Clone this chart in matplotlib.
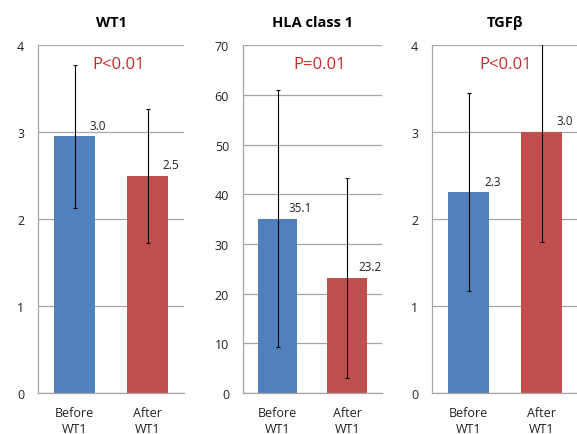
import matplotlib.pyplot as plt

# panel data
titles = ["WT1", "HLA class 1", "TGFβ"]
p_texts = ["P<0.01", "P=0.01", "P<0.01"]
groups = ["Before\nWT1", "After\nWT1"]
wt1_means = [2.95, 2.5]
wt1_err = [0.82, 0.77]
hla_means = [35.1, 23.2]
hla_err = [25.9, 20.1]
tgf_means = [2.31, 3.0]
tgf_err = [1.14, 1.26]
mean_labels = [["3.0", "2.5"], ["35.1", "23.2"], ["2.3", "3.0"]]
ymax = [4, 70, 4]
ystep = [1, 10, 1]

BLUE = "#4F81BD"
RED = "#C0504D"

plt.rcParams["font.family"] = ["Open Sans", "DejaVu Sans"]

fig = plt.figure(figsize=(5.77, 4.35), dpi=100)
# axes rectangles in figure fractions (left, bottom, width, height)
rects = [
    (0.066, 0.094, 0.253, 0.80),
    (0.421, 0.094, 0.241, 0.80),
    (0.749, 0.094, 0.253, 0.80),
]
p_xpos = [0.55, 0.55, 0.5]
all_means = [wt1_means, hla_means, tgf_means]
all_err = [wt1_err, hla_err, tgf_err]

for i in range(3):
    ax = fig.add_axes(rects[i])
    x = [0, 1]
    w = 0.57
    ax.bar(x, all_means[i], width=w, color=[BLUE, RED], zorder=2)
    ax.errorbar(x, all_means[i], yerr=all_err[i], fmt="none", ecolor="black",
                elinewidth=0.8, capsize=1.5, capthick=0.8, zorder=3)
    ax.set_xlim(-0.5, 1.5)
    ax.set_ylim(0, ymax[i])
    ticks = list(range(0, ymax[i] + 1, ystep[i]))
    ax.set_yticks(ticks)
    ax.yaxis.grid(True, color="#a6a6a6", linewidth=0.9, zorder=0)
    ax.set_axisbelow(True)
    ax.set_xticks(x)
    ax.set_xticklabels(groups, fontsize=9, linespacing=1.35)
    ax.tick_params(axis="both", length=0, colors="#222222", labelsize=9)
    ax.tick_params(axis="x", pad=9)
    ax.tick_params(axis="y", pad=10)
    for side in ["top", "right"]:
        ax.spines[side].set_visible(False)
    for side in ["left", "bottom"]:
        ax.spines[side].set_color("#a6a6a6")
        ax.spines[side].set_linewidth(0.9)
    ax.set_title(titles[i], fontsize=10.5, fontweight="bold", pad=14)
    ax.text(p_xpos[i], 0.945, p_texts[i], transform=ax.transAxes, ha="center",
            va="center", color="#CC2A2A", fontsize=12)
    for j in range(2):
        ax.annotate(mean_labels[i][j], (x[j] + w / 2, all_means[i][j]),
                    xytext=(2, 8), textcoords="offset points", ha="center",
                    va="center", fontsize=8.5, color="#222222")

fig.savefig("out.png", dpi=100)
